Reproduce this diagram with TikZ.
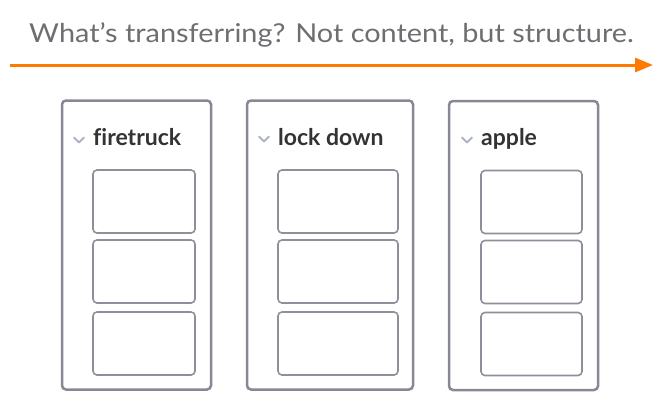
\documentclass[tikz,border=0pt]{standalone}
\usepackage{fontspec}
\setmainfont{Lato}
\usetikzlibrary{arrows.meta}
\definecolor{titlegray}{HTML}{6D6E71}
\definecolor{arroworange}{HTML}{FF7A00}
\definecolor{panelgray}{HTML}{878895}
\definecolor{boxgray}{HTML}{8E8F9B}
\definecolor{labeldark}{HTML}{333333}
\definecolor{chevgray}{HTML}{A9B3C2}
\tikzset{
  panel/.style={draw=panelgray, line width=2.5pt, rounded corners=4pt, minimum width=#1, minimum height=289pt, inner sep=0pt},
  slot/.style={draw=boxgray, line width=1.6pt, rounded corners=4pt, minimum width=#1, minimum height=63pt, inner sep=0pt},
  lbl/.style={font=\fontsize{23}{25}\selectfont\bfseries\addfontfeatures{Ligatures=NoCommon}, text=labeldark, anchor=base west, inner sep=0pt},
  chev/.style={draw=chevgray, line width=2pt, line cap=round, line join=round},
  ttl/.style={font=\fontsize{26}{30}\selectfont, text=titlegray, anchor=base, inner sep=0pt, xscale=1.11},
}
\begin{document}
\begin{tikzpicture}[x=1pt,y=-1pt]
\useasboundingbox (0,0) rectangle (663,405);
% title
\node[ttl] (title) at (331.5,42) {What’s transferring? Not content, but structure.};
\coordinate (as) at (10,65);
\coordinate (ae) at (653,65);
\draw[arroworange, line width=3pt, -{Triangle[length=18pt,width=14pt]}] (as) -- (ae);
% panels
\node[panel=149pt] (p1) at (136.5,245) {};
\node[panel=166pt] (p2) at (330,245) {};
\node[panel=149pt] (p3) at (523.5,245.5) {};
% labels
\node[lbl] (l1) at (93,145) {firetruck};
\node[lbl] (l2) at (278,145) {lock down};
\node[lbl] (l3) at (481,145) {apple};
% chevrons
\draw[chev] (74,137.5) -- (79,142.5) -- (84,137.5);
\draw[chev] (259,136.5) -- (264,141.5) -- (269,136.5);
\draw[chev] (462,137.5) -- (467,142.5) -- (472,137.5);
% slots
\foreach \i/\y in {1/201.5,2/271.5,3/343.5}{
  \node[slot=102pt] (s1\i) at (144,\y) {};
  \node[slot=120pt] (s2\i) at (338,\y) {};
  \node[slot=101pt] (s3\i) at (531.5,\y+0.5) {};
}
\end{tikzpicture}
\end{document}
